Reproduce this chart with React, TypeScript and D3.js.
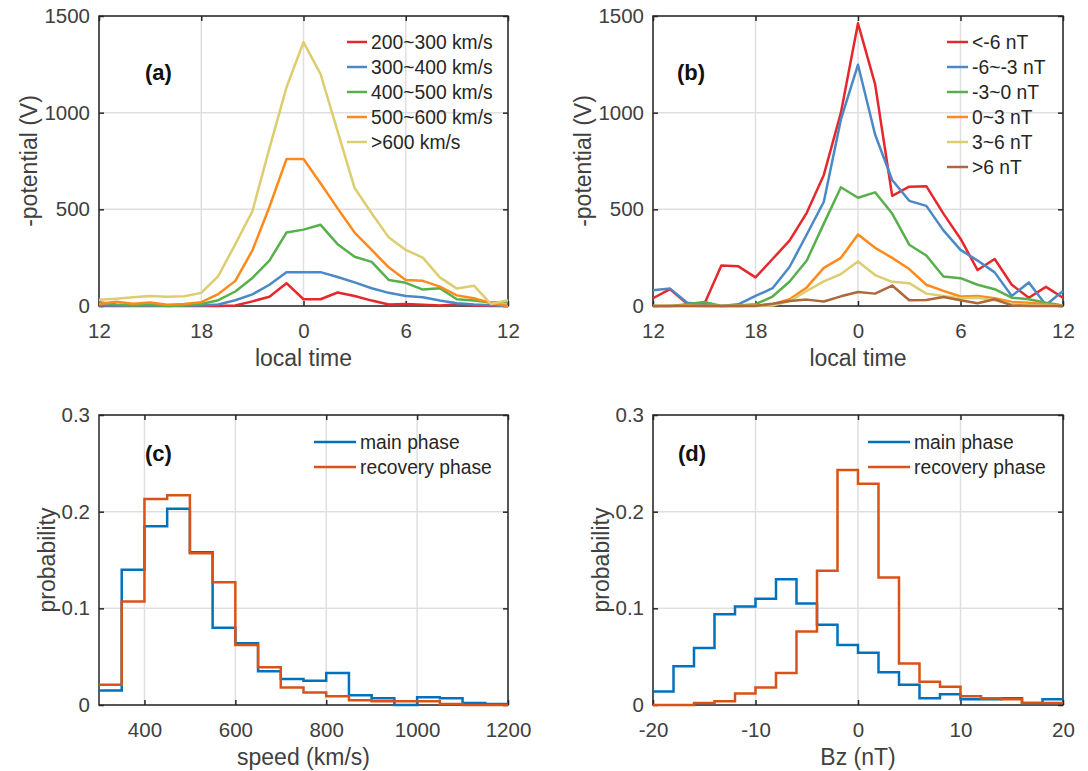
import { useEffect, useRef } from "react";
import * as d3 from "d3";

const width = 1088;
const height = 771;

// hourly samples along local time 12 -> 18 -> 0 -> 6 -> 12
const ltTickLabels = ["12", "18", "0", "6", "12"];

const v200to300 = [0, 0, 0, 0, 0, 0, 0, 0, 3, 24, 48, 118, 35, 35, 70, 52, 28, 8, 10, 6, 3, 8, 3, 0, 0];
const v300to400 = [2, 2, 2, 2, 1, 2, 3, 8, 30, 60, 110, 175, 175, 175, 150, 122, 92, 68, 52, 45, 28, 14, 8, 4, 0];
const v400to500 = [20, 8, 2, 6, 0, 3, 10, 30, 75, 145, 235, 380, 395, 420, 320, 255, 228, 135, 120, 85, 92, 35, 28, 18, 20];
const v500to600 = [10, 22, 12, 18, 6, 10, 20, 62, 130, 287, 512, 760, 760, 635, 505, 380, 290, 200, 135, 130, 100, 55, 40, 15, 0];
const vOver600 = [32, 38, 45, 52, 48, 50, 68, 155, 320, 490, 815, 1130, 1365, 1200, 905, 610, 480, 355, 290, 250, 148, 90, 105, 10, 30];

const bzLtm6 = [40, 87, 12, 9, 209, 205, 148, 243, 339, 482, 678, 1000, 1462, 1148, 570, 617, 620, 478, 348, 186, 243, 110, 43, 99, 43];
const bzM6toM3 = [82, 90, 17, 9, 0, 9, 52, 92, 203, 370, 539, 965, 1248, 887, 652, 544, 518, 391, 290, 235, 174, 52, 122, 5, 78];
const bzM3to0 = [0, 0, 9, 21, 0, 3, 9, 49, 127, 235, 426, 614, 560, 588, 478, 317, 261, 153, 144, 110, 87, 43, 35, 17, 3];
const bz0to3 = [0, 0, 2, 0, 0, 0, 2, 9, 35, 96, 197, 249, 370, 301, 249, 191, 110, 78, 49, 52, 40, 21, 17, 9, 0];
const bz3to6 = [0, 0, 0, 0, 0, 0, 0, 2, 26, 78, 127, 165, 230, 160, 125, 118, 64, 52, 40, 43, 30, 12, 5, 2, 0];
const bzGt6 = [0, 0, 0, 0, 0, 0, 0, 12, 26, 33, 23, 50, 72, 64, 106, 30, 31, 47, 30, 14, 35, 3, 0, 0, 0];

const speedLegend = ["200~300 km/s", "300~400 km/s", "400~500 km/s", "500~600 km/s", ">600 km/s"];
const bzLegend = ["<-6 nT", "-6~-3 nT", "-3~0 nT", "0~3 nT", "3~6 nT", ">6 nT"];
const lineColors = ["#e6282d", "#4a89c6", "#57b04b", "#ff8a1c", "#dccd70", "#b0673c"];

// histograms, 50 km/s bins from 300 to 1200
const speedMain = [0.015, 0.14, 0.185, 0.203, 0.158, 0.08, 0.064, 0.035, 0.027, 0.025, 0.033, 0.01, 0.007, 0.0, 0.008, 0.007, 0.002, 0.001];
const speedRecovery = [0.021, 0.107, 0.213, 0.217, 0.157, 0.127, 0.062, 0.039, 0.018, 0.013, 0.009, 0.005, 0.004, 0.004, 0.004, 0.001, 0.0, 0.0];
// 2 nT bins from -20 to 20
const bzMain = [0.014, 0.04, 0.059, 0.094, 0.102, 0.11, 0.13, 0.105, 0.083, 0.062, 0.054, 0.034, 0.021, 0.007, 0.011, 0.006, 0.006, 0.007, 0.002, 0.006];
const bzRecovery = [0.0, 0.0, 0.002, 0.004, 0.012, 0.018, 0.033, 0.076, 0.139, 0.243, 0.229, 0.132, 0.043, 0.024, 0.019, 0.009, 0.007, 0.006, 0.002, 0.002];
const phaseLegend = ["main phase", "recovery phase"];
const phaseColors = ["#0072bd", "#d95319"];

const font = "'Liberation Sans', Arial, Helvetica, sans-serif";
const textGrey = "#404040";

type Box = { left: number; top: number; w: number; h: number };

const drawFrame = (svg: any, b: Box, x: any, y: any, xTicks: number[], xFmt: (d: number, i: number) => string, yTicks: number[], xLabel: string, yLabel: string, yLabelOff: number) => {
  const g = svg.append("g");
  const right = b.left + b.w;
  const bottom = b.top + b.h;

  // grid
  g.selectAll(".gx").data(xTicks).enter().append("line")
    .attr("x1", (d: number) => x(d)).attr("x2", (d: number) => x(d))
    .attr("y1", b.top).attr("y2", bottom)
    .attr("stroke", "#dfdfdf").attr("stroke-width", 1.5);
  g.selectAll(".gy").data(yTicks).enter().append("line")
    .attr("x1", b.left).attr("x2", right)
    .attr("y1", (d: number) => y(d)).attr("y2", (d: number) => y(d))
    .attr("stroke", "#dfdfdf").attr("stroke-width", 1.5);

  const axis = (gen: any, tx: number, ty: number) => {
    const a = g.append("g").attr("transform", `translate(${tx},${ty})`).call(gen);
    a.select(".domain").remove();
    a.selectAll("line").attr("stroke", "#262626").attr("stroke-width", 1.5);
    a.selectAll("text").attr("font-family", font).attr("font-size", 20.5).attr("fill", textGrey);
    return a;
  };
  axis(d3.axisBottom(x).tickValues(xTicks).tickSize(-5).tickPadding(17).tickFormat(xFmt as any), 0, bottom);
  axis(d3.axisTop(x).tickValues(xTicks).tickSize(-5).tickFormat(() => ""), 0, b.top);
  axis(d3.axisLeft(y).tickValues(yTicks).tickSize(-5).tickPadding(9).tickFormat((d: any) => String(d)), b.left, 0);
  axis(d3.axisRight(y).tickValues(yTicks).tickSize(-5).tickFormat(() => ""), right, 0);

  g.append("rect")
    .attr("x", b.left).attr("y", b.top).attr("width", b.w).attr("height", b.h)
    .attr("fill", "none").attr("stroke", "#262626").attr("stroke-width", 1.5);

  g.append("text")
    .attr("x", b.left + b.w / 2).attr("y", bottom + 60)
    .attr("text-anchor", "middle")
    .attr("font-family", font).attr("font-size", 23).attr("fill", textGrey)
    .text(xLabel);
  g.append("text")
    .attr("transform", `translate(${b.left - yLabelOff},${b.top + b.h / 2}) rotate(-90)`)
    .attr("text-anchor", "middle").attr("dy", "0.35em")
    .attr("font-family", font).attr("font-size", 23).attr("fill", textGrey)
    .text(yLabel);
};

const drawLegend = (svg: any, labels: string[], colors: string[], x1: number, x2: number, y0: number) => {
  const lg = svg.append("g");
  labels.forEach((t, i) => {
    const yy = y0 + i * 25;
    lg.append("line").attr("x1", x1).attr("x2", x2).attr("y1", yy).attr("y2", yy)
      .attr("stroke", colors[i]).attr("stroke-width", 2.5);
    lg.append("text").attr("x", x2 + 4).attr("y", yy).attr("dy", "0.35em")
      .attr("font-family", font).attr("font-size", 19.3).attr("fill", "#262626")
      .text(t);
  });
};

const panelTag = (svg: any, t: string, x: number, y: number) => {
  svg.append("text").attr("x", x).attr("y", y).attr("dy", "0.35em")
    .attr("font-family", font).attr("font-size", 22).attr("font-weight", "bold").attr("fill", "#111")
    .text(t);
};

const App = () => {
  const chartRef = useRef<SVGSVGElement>(null);

  useEffect(() => {
    const svg = d3.select(chartRef.current);
    svg.selectAll("*").remove();

    const boxA = { left: 99, top: 16, w: 409, h: 290 };
    const boxB = { left: 653, top: 16, w: 410, h: 290 };
    const boxC = { left: 99, top: 415, w: 409, h: 290 };
    const boxD = { left: 653, top: 415, w: 410, h: 290 };

    // (a) and (b): potential vs local time
    const ltTicks = [0, 6, 12, 18, 24];
    const potTicks = [0, 500, 1000, 1500];
    const lineSets: [Box, number[][], string[], string, number, number][] = [
      [boxA, [v200to300, v300to400, v400to500, v500to600, vOver600], speedLegend, "(a)", 248, 46],
      [boxB, [bzLtm6, bzM6toM3, bzM3to0, bz0to3, bz3to6, bzGt6], bzLegend, "(b)", 294, 24],
    ];
    lineSets.forEach(([b, series, legend, tag, legX, tagX]) => {
      const x = d3.scaleLinear().domain([0, 24]).range([b.left, b.left + b.w]);
      const y = d3.scaleLinear().domain([0, 1500]).range([b.top + b.h, b.top]);
      drawFrame(svg, b, x, y, ltTicks, (_d, i) => ltTickLabels[i], potTicks, "local time", "-potential (V)", 70.5);
      const line = d3.line<number>().x((_d, i) => x(i)).y((d) => y(d));
      series.forEach((s, i) => {
        svg.append("path").attr("d", line(s)).attr("fill", "none")
          .attr("stroke", lineColors[i]).attr("stroke-width", 2.5).attr("stroke-linejoin", "round");
      });
      const lineW = b === boxA ? 20 : 21;
      drawLegend(svg, legend, lineColors, b.left + legX, b.left + legX + lineW, b.top + 26);
      panelTag(svg, tag, b.left + tagX, b.top + 56);
    });

    // (c) and (d): probability histograms
    const probTicks = [0, 0.1, 0.2, 0.3];
    const histSets: [Box, number[], number, number[], number[][], string, string, number][] = [
      [boxC, [300, 1200], 50, [400, 600, 800, 1000, 1200], [speedMain, speedRecovery], "speed (km/s)", "(c)", 46],
      [boxD, [-20, 20], 2, [-20, -10, 0, 10, 20], [bzMain, bzRecovery], "Bz (nT)", "(d)", 25],
    ];
    histSets.forEach(([b, dom, binW, xTicks, series, xLabel, tag, tagX]) => {
      const x = d3.scaleLinear().domain(dom).range([b.left, b.left + b.w]);
      const y = d3.scaleLinear().domain([0, 0.3]).range([b.top + b.h, b.top]);
      drawFrame(svg, b, x, y, xTicks, (d) => String(d), probTicks, xLabel, "probability", 52.5);
      const step = d3.line<[number, number]>().x((d) => x(d[0])).y((d) => y(d[1])).curve(d3.curveStepAfter);
      series.forEach((s, i) => {
        const pts: [number, number][] = s.map((v, k) => [dom[0] + k * binW, v] as [number, number]);
        pts.push([dom[0] + s.length * binW, s[s.length - 1]]);
        svg.append("path").attr("d", step(pts)).attr("fill", "none")
          .attr("stroke", phaseColors[i]).attr("stroke-width", 2.5);
      });
      drawLegend(svg, phaseLegend, phaseColors, b.left + 215, b.left + 257, b.top + 27);
      panelTag(svg, tag, b.left + tagX, b.top + 38);
    });
  }, []);

  return (
    <div style={{ position: "absolute", left: 0, top: 0 }}>
      <svg ref={chartRef} width={width} height={height} style={{ display: "block", background: "#fff" }}></svg>
    </div>
  );
};

export default App;
